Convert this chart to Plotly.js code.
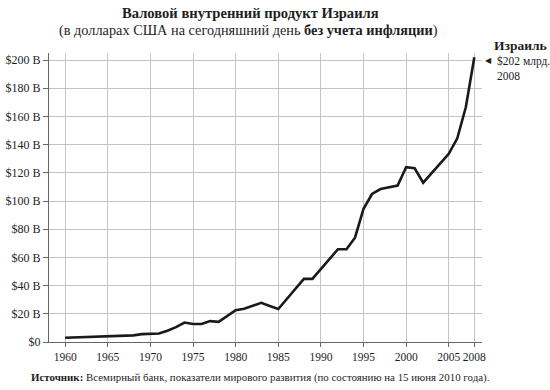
<!DOCTYPE html>
<html>
<head>
<meta charset="utf-8">
<script src="https://cdn.plot.ly/plotly-3.0.1.min.js"></script>
<style>html,body{margin:0;padding:0;background:#fff;}#chart{width:550px;height:390px;}</style>
</head>
<body>
<div id="chart"></div>
<script>
const years = [1960,1961,1962,1963,1964,1965,1966,1967,1968,1969,
  1970,1971,1972,1973,1974,1975,1976,1977,1978,1979,
  1980,1981,1982,1983,1984,1985,1986,1987,1988,1989,
  1990,1991,1992,1993,1994,1995,1996,1997,1998,1999,
  2000,2001,2002,2003,2004,2005,2006,2007,2008];
const gdpBillions = [3.0,3.2,3.4,3.6,3.8,4.0,4.2,4.4,4.7,5.6,
  6.0,6.0,8.0,10.5,13.8,12.8,12.8,14.8,14.3,18.5,
  22.5,23.6,25.5,27.8,25.6,23.4,30.5,37.5,44.8,44.8,
  51.8,58.7,65.8,65.8,74.0,94.5,105.0,108.5,110.0,111.0,
  124.0,123.2,113.0,119.8,126.5,133.5,144.5,166.5,202.0];
const xTickVals = [1960,1965,1970,1975,1980,1985,1990,1995,2000,2005,2008];
const xTickText = ['1960','1965','1970','1975','1980','1985','1990','1995','2000','2005','2008'];
const yTickVals = [0,20,40,60,80,100,120,140,160,180,200];
const yTickText = ['$0','$20 B','$40 B','$60 B','$80 B','$100 B','$120 B','$140 B','$160 B','$180 B','$200 B'];
const titleLine1 = 'Валовой внутренний продукт Израиля';
const titleLine2 = '(в долларах США на сегодняшний день <b>без учета инфляции</b>)';
const sourceText = '<b>Источник:</b> Всемирный банк, показатели мирового развития (по состоянию на 15 июня 2010 года).';
const endLabelName = 'Израиль';
const endLabelValue = '$202 млрд.';
const endLabelYear = '2008';

const serif = 'Liberation Serif, Times New Roman, serif';
const txt = '#1e1e1e';

const trace = {
  x: years, y: gdpBillions, type: 'scatter', mode: 'lines',
  line: {color: '#1a1a1a', width: 2.6}, hoverinfo: 'skip'
};

const layout = {
  width: 550, height: 390,
  margin: {l: 49, r: 68, t: 53, b: 48},
  paper_bgcolor: '#fff', plot_bgcolor: '#fff',
  showlegend: false,
  font: {family: serif, color: txt, size: 12},
  xaxis: {
    range: [1958.1, 2008.9], tickvals: xTickVals, ticktext: xTickText,
    tickangle: 0,
    showgrid: true, gridcolor: '#c4c4c4', gridwidth: 1,
    showline: true, linecolor: '#666', linewidth: 1,
    ticks: 'outside', ticklen: 4, tickcolor: '#666',
    zeroline: false, tickfont: {family: serif, size: 11.5, color: txt}
  },
  yaxis: {
    range: [0, 205], tickvals: yTickVals, ticktext: yTickText,
    showgrid: true, gridcolor: '#c4c4c4', gridwidth: 1,
    showline: true, linecolor: '#666', linewidth: 1,
    ticks: 'outside', ticklen: 5, tickcolor: '#666',
    zeroline: false, tickfont: {family: serif, size: 12, color: txt}
  },
  annotations: [
    {text: '<b>' + titleLine1 + '</b>', xref: 'paper', yref: 'paper',
     x: (250-49)/433, y: (342-13)/289, xanchor: 'center', yanchor: 'middle',
     showarrow: false, font: {family: serif, size: 14.6, color: txt}},
    {text: titleLine2, xref: 'paper', yref: 'paper',
     x: (248-49)/433, y: (342-31)/289, xanchor: 'center', yanchor: 'middle',
     showarrow: false, font: {family: serif, size: 14.3, color: txt}},
    {text: sourceText, xref: 'paper', yref: 'paper',
     x: (260-49)/433, y: (342-377)/289, xanchor: 'center', yanchor: 'middle',
     showarrow: false, font: {family: serif, size: 10.9, color: txt}},
    {text: '<b>' + endLabelName + '</b>', xref: 'paper', yref: 'paper',
     x: (492-49)/433, y: (342-45)/289, xanchor: 'left', yanchor: 'middle',
     showarrow: false, font: {family: serif, size: 13.5, color: txt}},
    {text: '◀', xref: 'paper', yref: 'paper',
     x: (488-49)/433, y: (342-60)/289, xanchor: 'center', yanchor: 'middle',
     showarrow: false, font: {family: 'DejaVu Sans, sans-serif', size: 8, color: txt}},
    {text: endLabelValue + '<br>' + endLabelYear, xref: 'paper', yref: 'paper',
     x: (495-49)/433, y: (342-53)/289, xanchor: 'left', yanchor: 'top', align: 'left',
     showarrow: false, font: {family: serif, size: 11.5, color: txt}}
  ]
};

Plotly.newPlot('chart', [trace], layout, {displayModeBar: false, staticPlot: true});
</script>
</body>
</html>
